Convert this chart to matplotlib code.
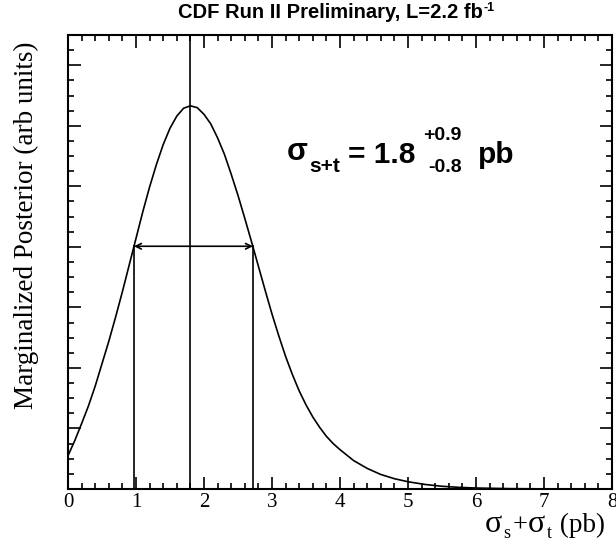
import numpy as np
import matplotlib
matplotlib.use("Agg")
import matplotlib.pyplot as plt
from matplotlib.ticker import MultipleLocator

# Posterior curve (x in pb, y in arbitrary units)
xs = [0.0, 0.1, 0.2, 0.3, 0.4, 0.5, 0.6, 0.7, 0.8, 0.9, 1.0, 1.1, 1.2, 1.3, 1.4, 1.5, 1.6, 1.7, 1.8,
      1.9, 2.0, 2.1, 2.2, 2.3, 2.4, 2.5, 2.6, 2.7, 2.8, 2.9, 3.0, 3.1, 3.2, 3.3, 3.4, 3.5, 3.6, 3.7,
      3.8, 3.9, 4.0, 4.2, 4.4, 4.6, 4.8, 5.0, 5.25, 5.5, 5.75, 6.0, 6.5, 7.0, 7.5, 8.0]
ys = [0.55, 0.80, 1.08, 1.37, 1.70, 2.07, 2.44, 2.84, 3.26, 3.70, 4.14, 4.58, 4.99, 5.36, 5.69, 5.96, 6.16, 6.29, 6.33,
      6.30, 6.19, 6.03, 5.80, 5.53, 5.20, 4.85, 4.47, 4.08, 3.68, 3.28, 2.89, 2.53, 2.19, 1.89, 1.62, 1.39, 1.19, 1.02,
      0.87, 0.75, 0.65, 0.47, 0.34, 0.24, 0.17, 0.12, 0.075, 0.045, 0.027, 0.016, 0.006, 0.002, 0.0007, 0.0002]

best = 1.8
lo = 0.97
hi = 2.72
band_level = 4.01

W, H = 616, 541
fig = plt.figure(figsize=(W/100, H/100), dpi=100)
ax = fig.add_axes([68/W, 1-489/H, (612-68)/W, (489-35)/H])

ax.plot(xs, ys, color="black", lw=1.2)
ax.plot([best, best], [0, 7.5], color="black", lw=1.2)
ax.plot([lo, lo], [0, band_level], color="black", lw=1.2)
ax.plot([hi, hi], [0, band_level], color="black", lw=1.2)
ax.annotate("", xy=(lo, band_level), xytext=(hi, band_level),
            arrowprops=dict(arrowstyle="<->", color="black", lw=1.2, shrinkA=0, shrinkB=0))

ax.set_xlim(0, 8)
ax.set_ylim(0, 7.5)
ax.xaxis.set_major_locator(MultipleLocator(1))
ax.xaxis.set_minor_locator(MultipleLocator(0.2))
ax.yaxis.set_major_locator(MultipleLocator(1))
ax.yaxis.set_minor_locator(MultipleLocator(0.25))
ax.tick_params(which="both", direction="in", top=True, right=True, width=1.2)
ax.tick_params(which="major", length=9)
ax.tick_params(which="minor", length=4.5)
ax.tick_params(axis="y", which="both", labelleft=False)
ax.tick_params(axis="x", labelsize=15, pad=3)
for lab in ax.get_xticklabels():
    lab.set_family("Liberation Serif")
for s in ax.spines.values():
    s.set_linewidth(1.5)

fig.text(26/W, 1-225/H, "Marginalized Posterior (arb units)", family="Liberation Serif",
         fontsize=19.5, rotation=90, ha="center", va="center")

renderer = fig.canvas.get_renderer()

def chain(x0, y0, pieces, **kw):
    """pieces: (text, fontsize, dy_px, gap_before_px)"""
    x = x0
    for s, fs, dy, gap in pieces:
        x += gap
        t = fig.text(x/W, 1-(y0+dy)/H, s, fontsize=fs, va="baseline", ha="left", **kw)
        bb = t.get_window_extent(renderer)
        x = x + bb.width
    return x

serif = dict(family="Liberation Serif")
sans_b = dict(family="Liberation Sans", fontweight="bold")

# x-axis title
chain(485, 532, [("\u03c3", 23, 0, 0), ("s", 13, 6, 1), ("+", 19, 0, 2),
                 ("\u03c3", 23, 0, 1), ("t", 13, 6, 1), (" (pb)", 19.5, 0, 2)], **serif)

# title
chain(178, 18, [("CDF Run II Preliminary, L=2.2 fb", 14.5, 0, 0), ("-1", 9, -7, 1)], **sans_b)

# result annotation
chain(287, 160, [("\u03c3", 22, 0, 0), ("s+t", 15, 12, 1), ("= 1.8", 21.5, 3, 8)], **sans_b)
fig.text(423/W, 1-140/H, "+0.9", fontsize=14, va="baseline", **sans_b)
fig.text(428/W, 1-172/H, "-0.8", fontsize=14, va="baseline", **sans_b)
fig.text(478/W, 1-163/H, "pb", fontsize=21.5, va="baseline", **sans_b)

fig.savefig("out.png", dpi=100)
